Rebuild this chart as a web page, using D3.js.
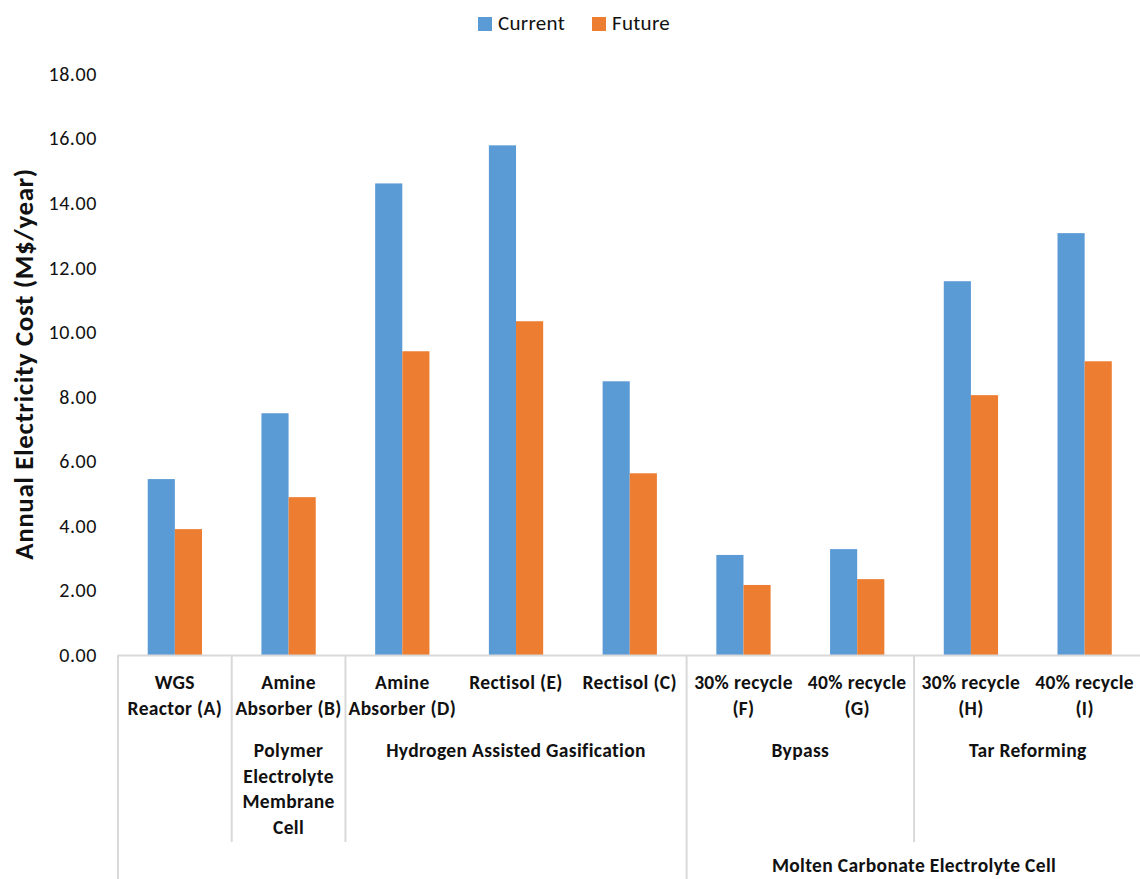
<!DOCTYPE html>
<html>
<head>
<meta charset="utf-8">
<script src="https://cdn.jsdelivr.net/npm/d3@7"></script>
<style>
  html, body { margin: 0; padding: 0; background: #fff; }
  svg { display: block; font-family: Carlito, Calibri, Lato, "Open Sans", sans-serif; }
</style>
</head>
<body>
<svg id="chart" width="1140" height="879"></svg>
<script>
// Annual electricity cost per process configuration (M$/year)
const categories = ["A", "B", "D", "E", "C", "F", "G", "H", "I"];
const categoryLabels = [
  ["WGS", "Reactor (A)"],
  ["Amine", "Absorber (B)"],
  ["Amine", "Absorber (D)"],
  ["Rectisol (E)"],
  ["Rectisol (C)"],
  ["30% recycle", "(F)"],
  ["40% recycle", "(G)"],
  ["30% recycle", "(H)"],
  ["40% recycle", "(I)"]
];
const currentCost = [5.45, 7.49, 14.61, 15.79, 8.48, 3.10, 3.28, 11.58, 13.07];
const futureCost  = [3.90, 4.89, 9.41, 10.34, 5.63, 2.17, 2.35, 8.05, 9.10];
const seriesNames = ["Current", "Future"];

// Second-level groups: [first category, last category, label lines]
const groupLevel2 = [
  ["A", "A", []],
  ["B", "B", ["Polymer", "Electrolyte", "Membrane", "Cell"]],
  ["D", "C", ["Hydrogen Assisted Gasification"]],
  ["F", "G", ["Bypass"]],
  ["H", "I", ["Tar Reforming"]]
];
// Third-level groups
const groupLevel3 = [
  ["A", "C", []],
  ["F", "I", ["Molten Carbonate Electrolyte Cell"]]
];
const yTicks = [0, 2, 4, 6, 8, 10, 12, 14, 16, 18];

const colors = ["#5B9BD5", "#ED7D31"];
const svg = d3.select("#chart");

const plotLeft = 118, plotRight = 1141.5, plotTop = 73, plotBottom = 655;

const x = d3.scaleBand().domain(categories).range([plotLeft, plotRight]).padding(0);
const y = d3.scaleLinear().domain([0, 18]).range([plotBottom, plotTop + 1]);

const step = x.bandwidth();
const barW = step / (2 + 2.19);
const xs = d3.scaleBand().domain(seriesNames)
  .range([step / 2 - barW, step / 2 + barW]).padding(0);

const rows = categories.map((c, i) => ({ cat: c, values: [currentCost[i], futureCost[i]] }));

// Bars
const g = svg.append("g");
g.selectAll("g.cat").data(rows).join("g")
  .attr("class", "cat")
  .attr("transform", d => `translate(${x(d.cat)},0)`)
  .selectAll("rect").data(d => d.values.map((v, k) => ({ v, k })))
  .join("rect")
  .attr("x", d => xs(seriesNames[d.k]))
  .attr("width", xs.bandwidth())
  .attr("y", d => y(d.v))
  .attr("height", d => y(0) - y(d.v))
  .attr("fill", d => colors[d.k]);

// Y axis tick labels (no axis line)
const yAxis = d3.axisLeft(y).tickValues(yTicks).tickFormat(d3.format(".2f")).tickSize(0).tickPadding(0);
const ya = svg.append("g").attr("transform", `translate(97,0)`).call(yAxis);
ya.select(".domain").remove();
ya.selectAll("text").attr("font-size", 20).attr("fill", "#111")
  .attr("letter-spacing", 0.6)
  .style("font-family", "Carlito, Calibri, Lato, sans-serif");

// Y axis title
svg.append("text")
  .attr("transform", `translate(33,${(plotTop + plotBottom) / 2}) rotate(-90)`)
  .attr("text-anchor", "middle")
  .attr("font-size", 27).attr("font-weight", "bold").attr("fill", "#111")
  .attr("letter-spacing", 0.6)
  .text("Annual Electricity Cost (M$/year)");

// Category axis line
const lineColor = "#D9D9D9";
svg.append("line")
  .attr("x1", plotLeft).attr("x2", plotRight)
  .attr("y1", plotBottom + 0.5).attr("y2", plotBottom + 0.5)
  .attr("stroke", lineColor).attr("stroke-width", 2);

const level2Bottom = 842, level3Bottom = 879;
// Divider lines between level-2 groups; level-3 boundaries run to the bottom
const l2Edges = new Set();
groupLevel2.forEach(gr => { l2Edges.add(x(gr[0])); l2Edges.add(x(gr[1]) + step); });
const l3Edges = new Set();
groupLevel3.forEach(gr => { l3Edges.add(x(gr[0])); l3Edges.add(x(gr[1]) + step); });
Array.from(l2Edges).forEach(ex => {
  const full = l3Edges.has(ex);
  svg.append("line")
    .attr("x1", ex).attr("x2", ex)
    .attr("y1", plotBottom).attr("y2", full ? level3Bottom : level2Bottom)
    .attr("stroke", lineColor).attr("stroke-width", 2);
});

// Category labels (level 1)
const labelFont = 19.5;
const labelSpacing = 0.35;
const lineH = 25.5;
function label(xp, yp, t) {
  svg.append("text").attr("x", xp).attr("y", yp)
    .attr("text-anchor", "middle").attr("font-size", labelFont)
    .attr("font-weight", "bold").attr("fill", "#111")
    .attr("letter-spacing", labelSpacing)
    .text(t);
}
categoryLabels.forEach((lines, i) => {
  const cx = x(categories[i]) + step / 2;
  lines.forEach((t, j) => label(cx, 689 + j * 25.5, t));
});

// Level 2 labels
groupLevel2.forEach(gr => {
  const cx = (x(gr[0]) + x(gr[1]) + step) / 2;
  gr[2].forEach((t, j) => label(cx, 757 + j * lineH, t));
});

// Level 3 labels
groupLevel3.forEach(gr => {
  const cx = (x(gr[0]) + x(gr[1]) + step) / 2;
  gr[2].forEach((t, j) => label(cx, 872 + j * lineH, t));
});

// Legend
const legend = svg.append("g");
const legendX = [478, 592];
seriesNames.forEach((s, k) => {
  legend.append("rect").attr("x", legendX[k]).attr("y", 17)
    .attr("width", 14).attr("height", 14).attr("fill", colors[k]);
  legend.append("text").attr("x", legendX[k] + 20).attr("y", 30)
    .attr("font-size", 21).attr("fill", "#111").attr("letter-spacing", 0.3).text(s);
});
</script>
</body>
</html>
